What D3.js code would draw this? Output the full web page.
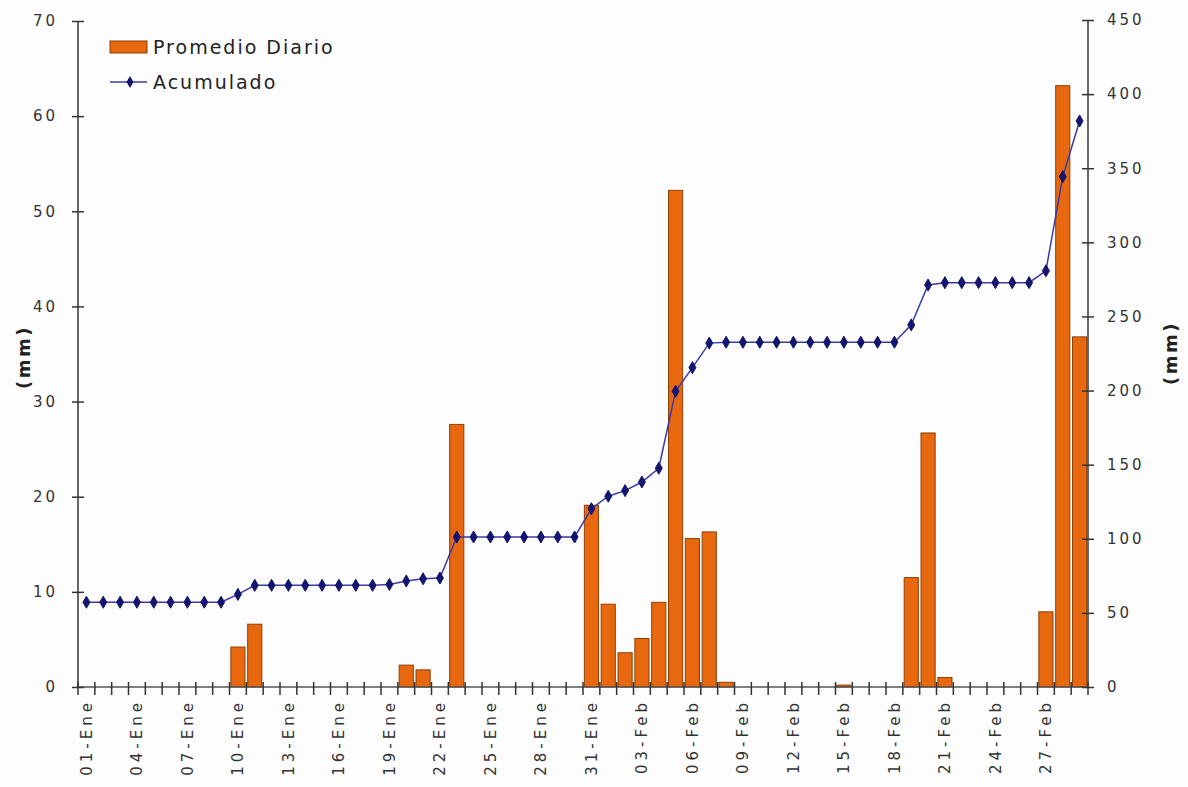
<!DOCTYPE html>
<html>
<head>
<meta charset="utf-8">
<script src="https://d3js.org/d3.v7.min.js"></script>
<style>
  body { margin: 0; background: #fdfdfd; }
  text { font-family: "DejaVu Sans", Verdana, sans-serif; }
</style>
</head>
<body>
<div id="chart"></div>
<script>
// dias (Ene - Feb)
const dias = [
  "01-Ene","02-Ene","03-Ene","04-Ene","05-Ene","06-Ene","07-Ene","08-Ene","09-Ene","10-Ene",
  "11-Ene","12-Ene","13-Ene","14-Ene","15-Ene","16-Ene","17-Ene","18-Ene","19-Ene","20-Ene",
  "21-Ene","22-Ene","23-Ene","24-Ene","25-Ene","26-Ene","27-Ene","28-Ene","29-Ene","30-Ene",
  "31-Ene","01-Feb","02-Feb","03-Feb","04-Feb","05-Feb","06-Feb","07-Feb","08-Feb","09-Feb",
  "10-Feb","11-Feb","12-Feb","13-Feb","14-Feb","15-Feb","16-Feb","17-Feb","18-Feb","19-Feb",
  "20-Feb","21-Feb","22-Feb","23-Feb","24-Feb","25-Feb","26-Feb","27-Feb","28-Feb","29-Feb"
];
// etiquetas visibles del eje x
const etiquetas = ["01-Ene","04-Ene","07-Ene","10-Ene","13-Ene","16-Ene","19-Ene","22-Ene","25-Ene","28-Ene",
  "31-Ene","03-Feb","06-Feb","09-Feb","12-Feb","15-Feb","18-Feb","21-Feb","24-Feb","27-Feb"];

// Promedio Diario (mm)
const promedio = [
  0, 0, 0, 0, 0, 0, 0, 0, 0, 4.2,
  6.6, 0, 0, 0, 0, 0, 0, 0, 0, 2.3,
  1.8, 0, 27.6, 0, 0, 0, 0, 0, 0, 0,
  19.1, 8.7, 3.6, 5.1, 8.9, 52.2, 15.6, 16.3, 0.5, 0,
  0, 0, 0, 0, 0, 0.2, 0, 0, 0, 11.5,
  26.7, 1.0, 0, 0, 0, 0, 0, 7.9, 63.2, 36.8
];
// Acumulado (mm)
const acumulado = [
  57.2, 57.2, 57.2, 57.2, 57.2, 57.2, 57.2, 57.2, 57.2, 62.5,
  68.6, 68.6, 68.6, 68.6, 68.6, 68.6, 68.6, 68.6, 69.2, 71.5,
  73.0, 73.5, 101.2, 101.2, 101.2, 101.2, 101.2, 101.2, 101.2, 101.2,
  120.3, 128.7, 132.5, 138.3, 147.6, 199.5, 215.5, 232.0, 232.6, 232.6,
  232.6, 232.6, 232.6, 232.6, 232.6, 232.6, 232.6, 232.6, 232.6, 244.3,
  271.2, 272.8, 272.8, 272.8, 272.8, 272.8, 272.8, 280.8, 344.3, 381.9
];

const leftTicks = [0, 10, 20, 30, 40, 50, 60, 70];
const rightTicks = [0, 50, 100, 150, 200, 250, 300, 350, 400, 450];

const width = 1188, height = 787;
const plot = { left: 78, right: 1088, top: 21, bottom: 687 };

let svg = d3.select("#chart").append("svg").attr("width", width).attr("height", height);

let x = d3.scaleBand().domain(dias).range([plot.left, plot.right]).paddingInner(0.16).paddingOuter(0.08);
let yL = d3.scaleLinear().domain([0, 70]).range([plot.bottom, plot.top]);
let yR = d3.scaleLinear().domain([0, 450]).range([plot.bottom, plot.top - 1]);
const step = x.step();

//bars
svg.selectAll("rect.bar")
  .data(promedio)
  .enter()
  .append("rect")
    .attr("class", "bar")
    .attr("x", (d, i) => x(dias[i]))
    .attr("y", d => yL(d))
    .attr("width", x.bandwidth())
    .attr("height", d => plot.bottom - yL(d))
    .style("fill", "#e8680f")
    .style("stroke", "#8e3f05")
    .style("stroke-width", 1);

//x axis baseline + ticks between categories
svg.append("line")
  .attr("x1", plot.left).attr("x2", plot.right)
  .attr("y1", plot.bottom).attr("y2", plot.bottom)
  .style("stroke", "#555").style("stroke-width", 1.5);

let tickPos = dias.map(d => x(d) + x.bandwidth() / 2 - step / 2).concat([plot.right]);
svg.selectAll("line.xtick")
  .data(tickPos)
  .enter()
  .append("line")
    .attr("class", "xtick")
    .attr("x1", d => d).attr("x2", d => d)
    .attr("y1", plot.bottom - 5).attr("y2", plot.bottom + 8)
    .style("stroke", "#333").style("stroke-width", 1.5);

//x labels
svg.selectAll("text.xlab")
  .data(etiquetas)
  .enter()
  .append("text")
    .attr("class", "xlab")
    .attr("transform", d => "translate(" + (x(d) + x.bandwidth() / 2) + "," + 699 + ") rotate(-90)")
    .attr("dy", "0.36em")
    .style("text-anchor", "end")
    .style("font-size", "15px")
    .style("letter-spacing", "4px")
    .style("fill", "#333")
    .text(d => d);

//left axis
let leftAxis = d3.axisLeft(yL).tickValues(leftTicks).tickSize(6).tickPadding(14);
let gL = svg.append("g")
  .attr("transform", "translate(" + plot.left + ",0)")
  .call(leftAxis);
gL.select(".domain").attr("d", "M0," + (plot.top) + "V" + plot.bottom).style("stroke", "#333").style("stroke-width", 1.5);
gL.selectAll(".tick line").attr("x1", 6).style("stroke", "#333").style("stroke-width", 1.5);
gL.selectAll(".tick text").style("font-size", "15px").style("letter-spacing", "3px").style("fill", "#333").style("font-family", "DejaVu Sans");

//right axis
let rightAxis = d3.axisRight(yR).tickValues(rightTicks).tickSize(6).tickPadding(13);
let gR = svg.append("g")
  .attr("transform", "translate(" + plot.right + ",0)")
  .call(rightAxis);
gR.select(".domain").attr("d", "M0," + (plot.top - 1) + "V" + plot.bottom).style("stroke", "#333").style("stroke-width", 1.5);
gR.selectAll(".tick line").attr("x1", -6).style("stroke", "#333").style("stroke-width", 1.5);
gR.selectAll(".tick text").style("font-size", "15px").style("letter-spacing", "3px").style("fill", "#333").style("font-family", "DejaVu Sans");

//axis titles
svg.append("text")
  .attr("transform", "translate(" + 30 + "," + 357 + ") rotate(-90)")
  .style("text-anchor", "middle")
  .style("font-size", "18px")
  .style("font-weight", "bold")
  .style("letter-spacing", "2.5px")
  .style("fill", "#222")
  .text("(mm)");
svg.append("text")
  .attr("transform", "translate(" + 1177 + "," + 353 + ") rotate(-90)")
  .style("text-anchor", "middle")
  .style("font-size", "18px")
  .style("font-weight", "bold")
  .style("letter-spacing", "2.5px")
  .style("fill", "#222")
  .text("(mm)");

//cumulative line
let line = d3.line()
  .x((d, i) => x(dias[i]) + x.bandwidth() / 2)
  .y(d => yR(d));
svg.append("path")
  .datum(acumulado)
  .attr("d", line)
  .style("fill", "none")
  .style("stroke", "#3b3ba6")
  .style("stroke-width", 1.5);

let marker = d3.symbol().type(d3.symbolDiamond).size(42);
svg.selectAll("path.pt")
  .data(acumulado)
  .enter()
  .append("path")
    .attr("class", "pt")
    .attr("d", marker)
    .attr("transform", (d, i) => "translate(" + (x(dias[i]) + x.bandwidth() / 2) + "," + yR(d) + ")")
    .style("fill", "#14146e")
    .style("stroke", "#14146e")
    .style("stroke-width", 1);

//legend
let lg = svg.append("g");
lg.append("rect")
  .attr("x", 110).attr("y", 41).attr("width", 37).attr("height", 12)
  .style("fill", "#e8680f").style("stroke", "#8e3f05").style("stroke-width", 1);
lg.append("text")
  .attr("x", 153).attr("y", 54)
  .style("font-size", "19px").style("letter-spacing", "2px").style("fill", "#222")
  .text("Promedio Diario");
lg.append("line")
  .attr("x1", 110).attr("x2", 147).attr("y1", 82).attr("y2", 82)
  .style("stroke", "#3b3ba6").style("stroke-width", 1.5);
lg.append("path")
  .attr("d", marker)
  .attr("transform", "translate(130,82)")
  .style("fill", "#14146e");
lg.append("text")
  .attr("x", 153).attr("y", 89)
  .style("font-size", "19px").style("letter-spacing", "2px").style("fill", "#222")
  .text("Acumulado");
</script>
</body>
</html>
